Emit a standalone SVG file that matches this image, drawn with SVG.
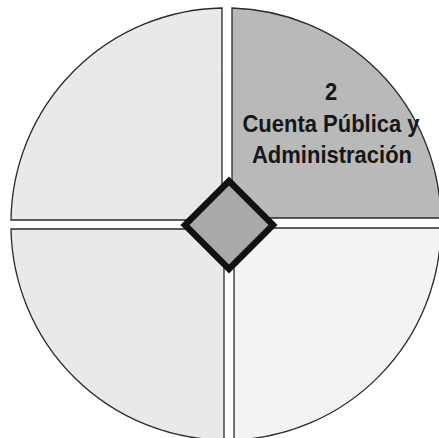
<svg xmlns="http://www.w3.org/2000/svg" width="439" height="438" viewBox="0 0 439 438">
<style>
.q{stroke:#2a2a2a;stroke-width:1.3;stroke-linejoin:miter}
.t{font-family:"Liberation Sans",Arial,sans-serif;font-weight:bold;font-size:22px;fill:#161616;text-anchor:middle}
</style>
<rect width="439" height="438" fill="#ffffff"/>
<g id="q1"><path class="q" d="M222,8 L222,220 L11,220 A215,215 0 0 1 222,8 Z" fill="#e9e9e9"/></g>
<g id="q2"><path class="q" d="M232,8 A215,215 0 0 1 441,218 L232,218 Z" fill="#b9b9b9"/>
<text class="t" transform="translate(331,100) scale(1,1.12)">2</text>
<text class="t" transform="translate(331,131.5) scale(1,1.12)">Cuenta Pública y</text>
<text class="t" transform="translate(332,162.5) scale(1,1.12)">Administración</text></g>
<g id="q3"><path class="q" d="M11,229 L224,229 L224,440 A215,215 0 0 1 11,229 Z" fill="#e9e9e9"/></g>
<g id="q4"><path class="q" d="M234,228 L441,228 A215,215 0 0 1 234,440 Z" fill="#f3f3f3"/></g>
<g id="center"><path d="M229,181 L273,225 L229,269 L185,225 Z" fill="#a9a9a9" stroke="#111" stroke-width="6.5" stroke-linejoin="miter"/></g>
</svg>
